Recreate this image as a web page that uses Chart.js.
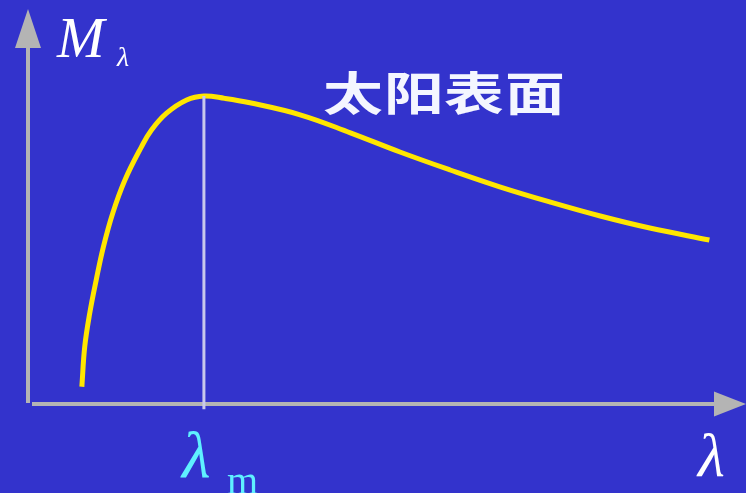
<!DOCTYPE html>
<html>
<head>
<meta charset="utf-8">
<script src="https://cdn.jsdelivr.net/npm/chart.js@4"></script>
<style>
  html, body { margin: 0; padding: 0; background: #3333cc; }
  #wrap { width: 746px; height: 493px; }
</style>
</head>
<body>
<div id="wrap"><canvas id="planck"></canvas></div>
<script>
// spectral exitance of the sun's surface, arbitrary units
const lambda = [0.75, 0.79, 0.86, 0.95, 1.05, 1.18, 1.35, 1.58, 1.72, 1.93, 2.21, 2.45, 2.74, 3.09, 3.79, 4.49, 5.18, 5.88, 6.57, 7.27, 7.97, 8.66, 9.49];
const exitance = [0.43, 1.43, 2.27, 3.10, 3.93, 4.77, 5.60, 6.43, 6.85, 7.27, 7.60, 7.70, 7.64, 7.53, 7.23, 6.78, 6.30, 5.85, 5.43, 5.05, 4.70, 4.40, 4.10];
const lambdaPeak = 2.45;
const peakValue = 7.70;
const curveLabel = '太阳表面';

const curve = lambda.map((x, i) => ({ x: x, y: exitance[i] }));
const peakLine = [{ x: lambdaPeak, y: peakValue }, { x: lambdaPeak, y: -0.13 }];

// axes with arrowheads, plus the text labels
const decor = {
  id: 'decor',
  beforeDraw(chart) {
    const ctx = chart.ctx;
    ctx.save();
    ctx.fillStyle = '#3333cc';
    ctx.fillRect(0, 0, chart.width, chart.height);
    ctx.restore();
  },
  beforeDatasetsDraw(chart) {
    const ctx = chart.ctx;
    const xs = chart.scales.x, ys = chart.scales.y;
    const x0 = xs.getPixelForValue(0);
    const y0 = ys.getPixelForValue(0);
    ctx.save();
    ctx.fillStyle = '#b4b4b4';
    // y axis
    ctx.fillRect(x0 - 2, 46, 4, y0 - 47);
    ctx.beginPath();
    ctx.moveTo(x0, 9);
    ctx.lineTo(x0 - 13, 48);
    ctx.lineTo(x0 + 13, 48);
    ctx.closePath();
    ctx.fill();
    // x axis
    ctx.fillRect(x0 + 4, y0 - 2, 684, 4);
    ctx.beginPath();
    ctx.moveTo(746, y0);
    ctx.lineTo(714, y0 - 12.5);
    ctx.lineTo(714, y0 + 12.5);
    ctx.closePath();
    ctx.fill();
    ctx.restore();
  },
  afterDraw(chart) {
    const ctx = chart.ctx;
    const xs = chart.scales.x;
    ctx.save();
    ctx.textBaseline = 'alphabetic';
    ctx.fillStyle = '#ffffff';
    ctx.font = 'italic 57px "Liberation Serif", serif';
    ctx.fillText('M', 57, 57);
    ctx.font = 'italic 28px "Liberation Serif", serif';
    ctx.fillText('λ', 117, 66);
    ctx.font = 'italic 62px "Liberation Serif", serif';
    ctx.fillText('λ', 698, 476);

    // lambda_m under the peak
    const xm = xs.getPixelForValue(lambdaPeak);
    ctx.fillStyle = '#5ff0ff';
    ctx.font = 'italic 66px "Liberation Serif", serif';
    ctx.fillText('λ', xm - 22, 477);
    ctx.font = '40px "Liberation Serif", serif';
    ctx.fillText('m', xm + 23, 494);

    // curve label, wide bold CJK
    ctx.fillStyle = '#f4f6ff';
    ctx.font = 'bold 46px "Noto Sans CJK SC", sans-serif';
    ctx.textAlign = 'center';
    ctx.textBaseline = 'middle';
    const centers = [353, 414, 474, 535];
    Array.from(curveLabel).forEach((ch, i) => {
      ctx.save();
      ctx.translate(centers[i], 93);
      ctx.scale(1.3, 1);
      ctx.fillText(ch, 0, 0);
      ctx.restore();
    });
    ctx.restore();
  }
};

new Chart(document.getElementById('planck'), {
  type: 'line',
  data: {
    datasets: [
      {
        data: peakLine,
        borderColor: '#c8c8ec',
        borderWidth: 3,
        pointRadius: 0,
        clip: false
      },
      {
        data: curve,
        borderColor: '#ffe600',
        borderWidth: 5,
        pointRadius: 0,
        tension: 0.4,
        borderCapStyle: 'butt'
      }
    ]
  },
  options: {
    responsive: true,
    maintainAspectRatio: false,
    animation: false,
    layout: { padding: 0 },
    plugins: { legend: { display: false }, tooltip: { enabled: false } },
    scales: {
      x: { type: 'linear', min: -0.39, max: 10, display: false },
      y: { type: 'linear', min: -2.225, max: 10.1, display: false }
    }
  },
  plugins: [decor]
});
</script>
</body>
</html>
